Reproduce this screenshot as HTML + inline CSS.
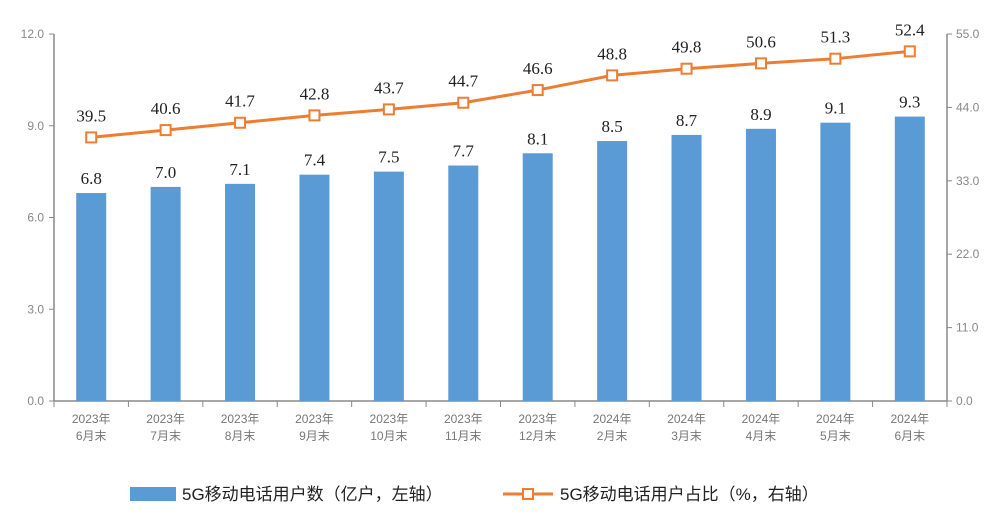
<!DOCTYPE html>
<html><head><meta charset="utf-8"><style>
body{margin:0;background:#fff;}
svg text{font-family:"Liberation Sans","Noto Sans CJK SC",sans-serif;}
svg text.val{font-family:"Liberation Serif","Noto Serif CJK SC",serif;}
</style></head><body>
<svg id="chart" width="1000" height="515" viewBox="0 0 1000 515">
<g id="axes"></g><g id="bars"></g><g id="line"></g>
<g>
<rect x="130" y="487" width="46" height="14" fill="#5b9bd5"/>
<text x="182" y="500" font-size="17" fill="#222">5G移动电话用户数（亿户，左轴）</text>
<line x1="503" y1="494" x2="553" y2="494" stroke="#ed7d31" stroke-width="3"/>
<rect x="523" y="489" width="10" height="10" fill="#fff" stroke="#ed7d31" stroke-width="2"/>
<text x="560" y="500" font-size="17" fill="#222">5G移动电话用户占比（%，右轴）</text>
</g>
</svg>
<script>
const categoriesYear=["2023年","2023年","2023年","2023年","2023年","2023年","2023年","2024年","2024年","2024年","2024年","2024年"];
const categoriesMonth=["6月末","7月末","8月末","9月末","10月末","11月末","12月末","2月末","3月末","4月末","5月末","6月末"];
const users=[6.8,7.0,7.1,7.4,7.5,7.7,8.1,8.5,8.7,8.9,9.1,9.3];
const share=[39.5,40.6,41.7,42.8,43.7,44.7,46.6,48.8,49.8,50.6,51.3,52.4];
const leftTicks=[0,3,6,9,12];
const rightTicks=[0,11,22,33,44,55];
const NS="http://www.w3.org/2000/svg";
const L=54,R=947,T=34,B=401;
const bw=(R-L)/categoriesMonth.length;
const xC=i=>L+bw*(i+0.5);
const yL=v=>B-(v/12)*(B-T);
const yR=v=>B-(v/55)*(B-T);
function mk(tag,attrs,parent,txt){const e=document.createElementNS(NS,tag);for(const k in attrs)e.setAttribute(k,attrs[k]);if(txt!==undefined)e.textContent=txt;parent.appendChild(e);return e;}
const ax=document.getElementById('axes'),bg=document.getElementById('bars'),lg=document.getElementById('line');
let e;
e=mk('line',{x1:L,y1:T,x2:L,y2:B,stroke:'#888','stroke-width':1.5},ax);


e=mk('line',{x1:R,y1:T,x2:R,y2:B,stroke:'#888','stroke-width':1.5},ax);


e=mk('line',{x1:L,y1:B,x2:R,y2:B,stroke:'#888','stroke-width':1.5},ax);


leftTicks.forEach(v=>{
 mk('line',{x1:L-5,y1:yL(v),x2:L,y2:yL(v),stroke:'#888'},ax);
 e=mk('text',{x:L-10,y:yL(v)+4,'font-size':12,fill:'#888','text-anchor':'end'},ax,v.toFixed(1));
 
 
});
rightTicks.forEach(v=>{
 mk('line',{x1:R,y1:yR(v),x2:R+5,y2:yR(v),stroke:'#888'},ax);
 e=mk('text',{x:R+9,y:yR(v)+4,'font-size':12,fill:'#888'},ax,v.toFixed(1));
 
 
});
for(let i=0;i<=categoriesMonth.length;i++){mk('line',{x1:L+bw*i,y1:B,x2:L+bw*i,y2:B+6,stroke:'#888'},ax);}
categoriesMonth.forEach((m,i)=>{
 e=mk('text',{x:xC(i),y:B+22,'font-size':12,fill:'#777','text-anchor':'middle'},ax,categoriesYear[i]);
 
 
 e=mk('text',{x:xC(i),y:B+39,'font-size':12,fill:'#777','text-anchor':'middle'},ax,m);
 
 
});
users.forEach((v,i)=>{
 e=mk('rect',{x:xC(i)-15,y:yL(v),width:30,height:B-yL(v),fill:'#5b9bd5'},bg);
 
 
 e=mk('text',{x:xC(i),y:yL(v)-9,'font-size':17,fill:'#222','text-anchor':'middle','class':'val'},bg,v.toFixed(1));
 
 
});
e=mk('polyline',{points:share.map((v,i)=>xC(i)+','+yR(v)).join(' '),fill:'none',stroke:'#ed7d31','stroke-width':3},lg);


share.forEach((v,i)=>{
 e=mk('rect',{x:xC(i)-5,y:yR(v)-5,width:10,height:10,fill:'#fff',stroke:'#ed7d31','stroke-width':2},lg);
 
 
 e=mk('text',{x:xC(i),y:yR(v)-16,'font-size':17,fill:'#222','text-anchor':'middle','class':'val'},lg,v.toFixed(1));
 
 
});
</script>
</body></html>
